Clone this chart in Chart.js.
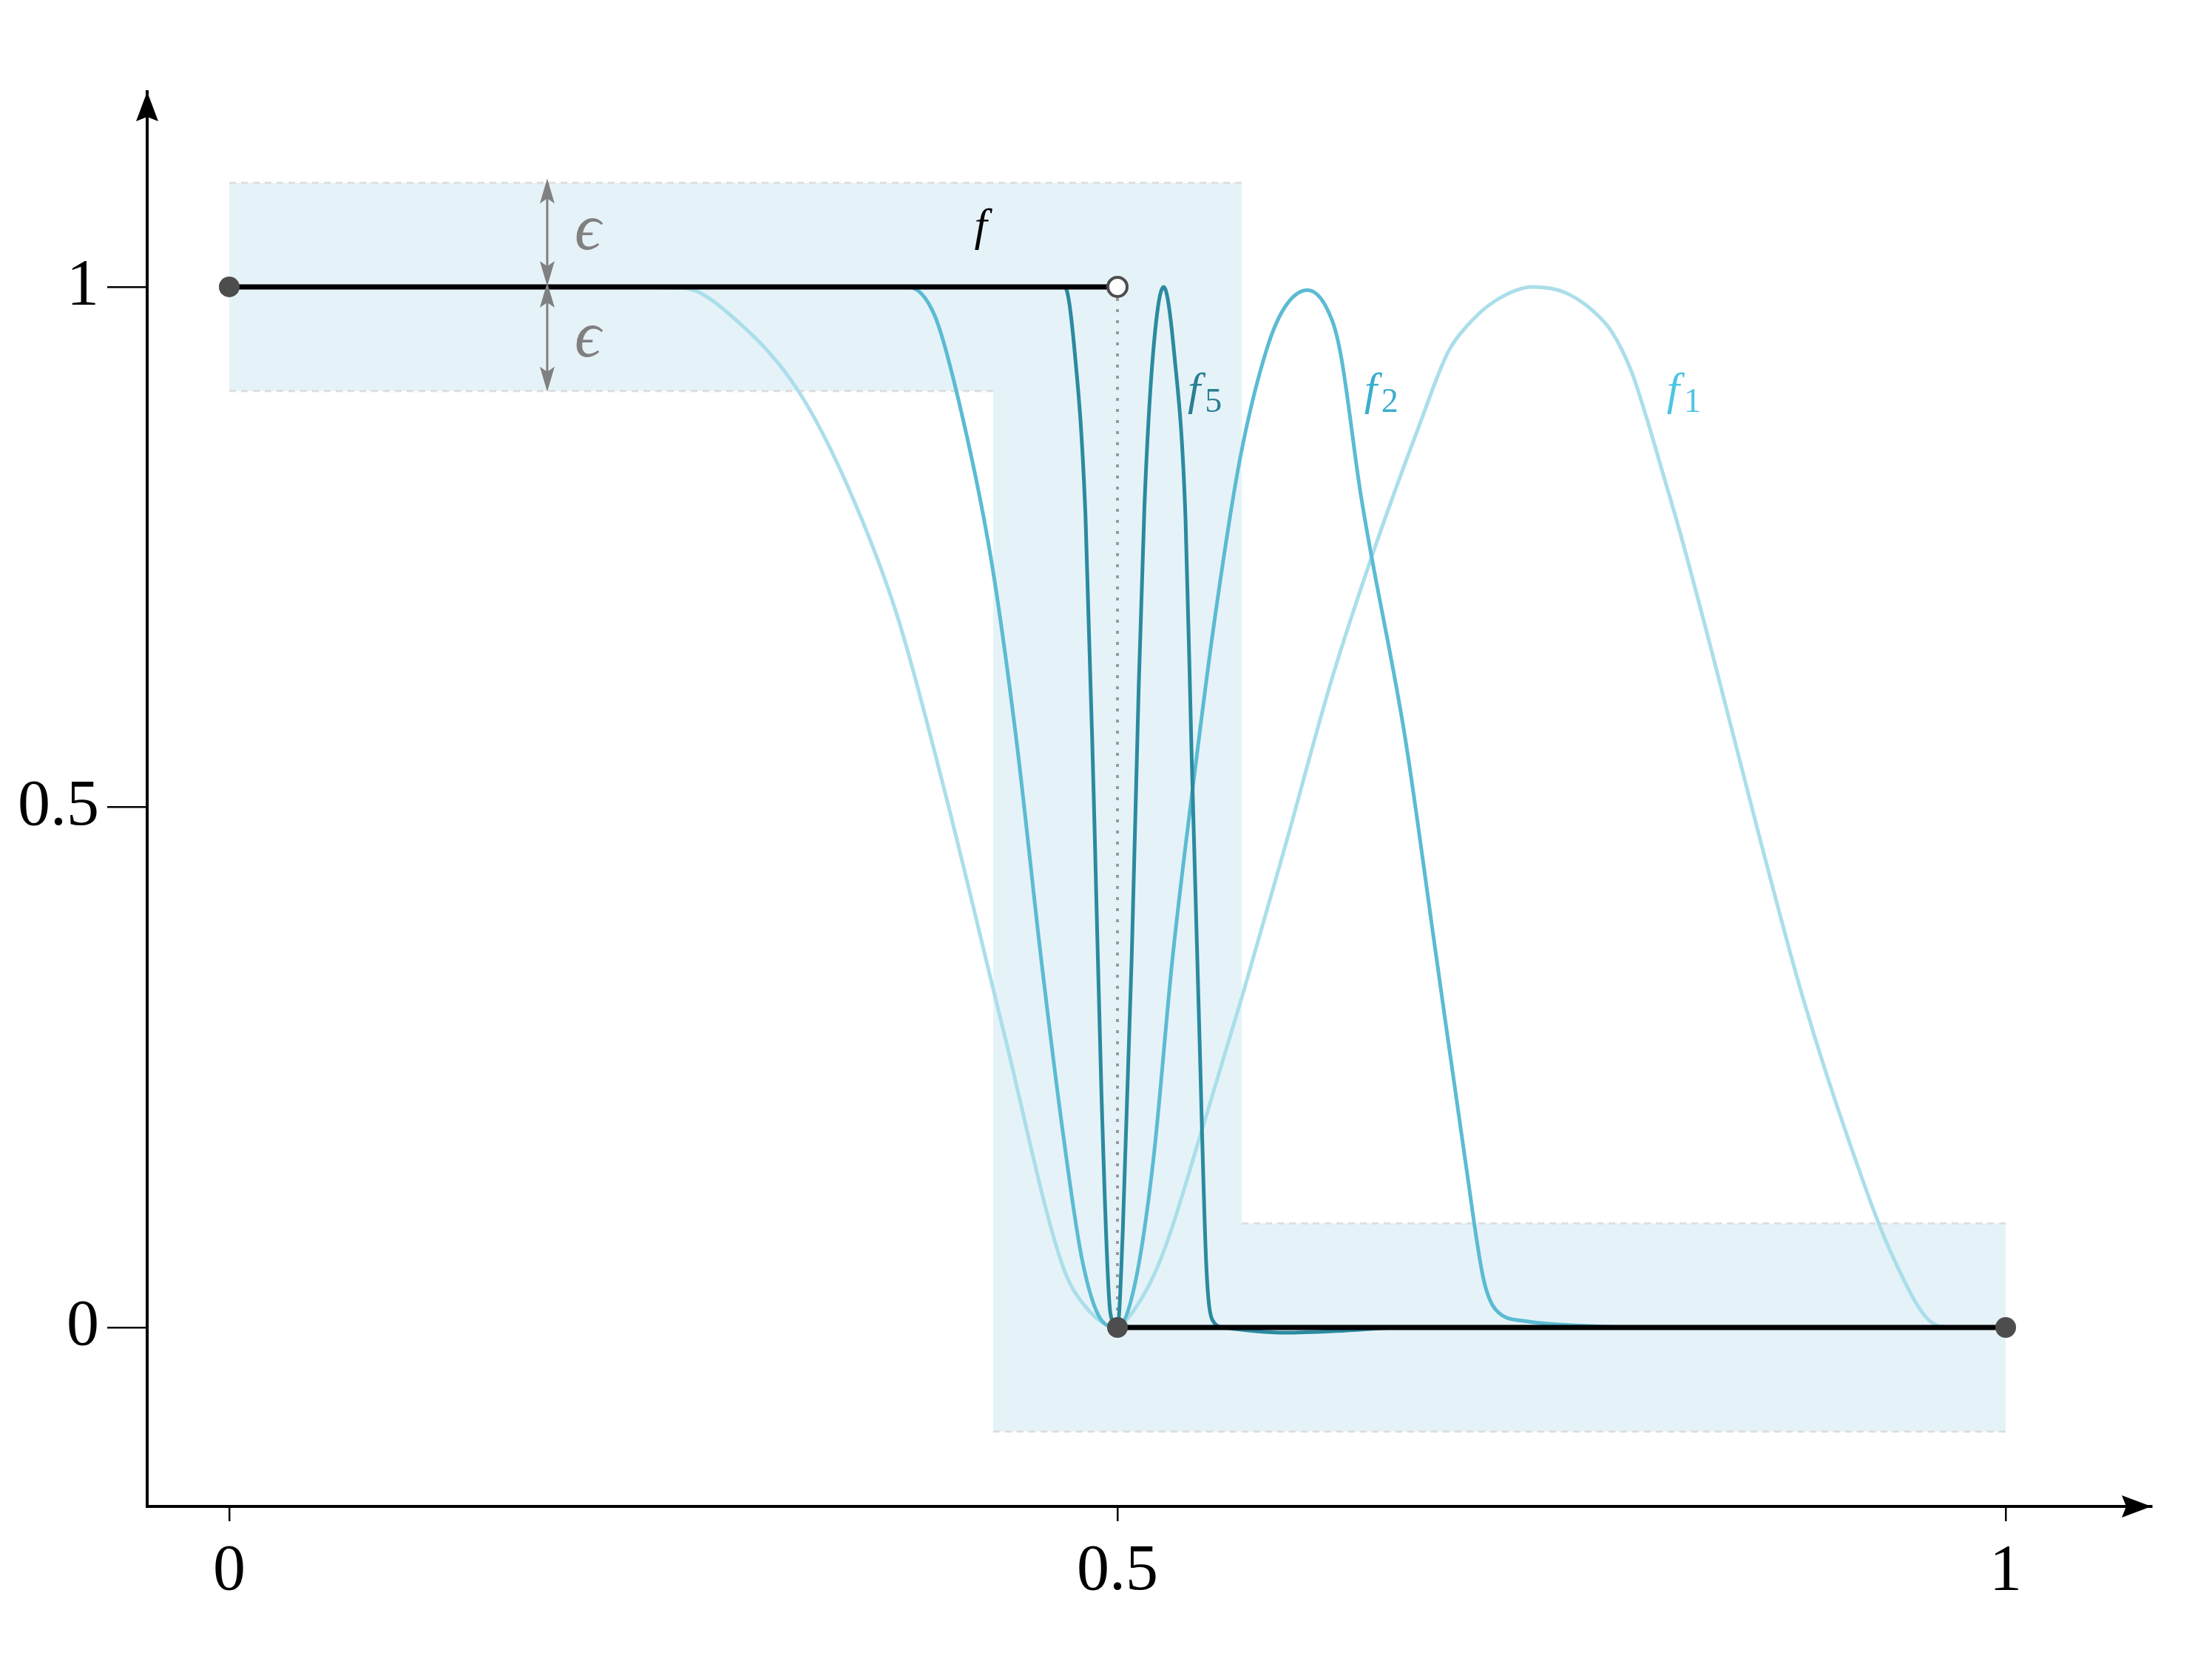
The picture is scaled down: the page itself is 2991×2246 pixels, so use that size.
<!DOCTYPE html>
<html>
<head>
<meta charset="utf-8">
<script src="https://cdn.jsdelivr.net/npm/chart.js@4.4.1/dist/chart.umd.min.js"></script>
<style>
html, body { margin: 0; padding: 0; background: #fff; overflow: hidden; }
#wrap { width: 2991px; height: 2246px; }
</style>
</head>
<body>
<div id="wrap"><canvas id="myChart"></canvas></div>
<script>
// tick values
const xTicks = [0, 0.5, 1];
const yTicks = [0, 0.5, 1];

// f : the limit (step) function
const fTopX = [0, 0.5];
const fTopY = [1, 1];
const fBotX = [0.5, 1];
const fBotY = [0, 0];

// f1
const f1X = [0, 0.2, 0.255, 0.288, 0.320, 0.348, 0.376, 0.401, 0.436, 0.469, 0.482, 0.5,
             0.503, 0.523, 0.549, 0.571, 0.594, 0.621, 0.645, 0.6697, 0.686, 0.697, 0.713, 0.7337,
             0.7514, 0.7677, 0.7786, 0.7895, 0.7977, 0.8058, 0.8167, 0.8345, 0.861, 0.886, 0.912,
             0.937, 0.959, 0.97, 1];
const f1Y = [1, 1, 0.999, 0.964, 0.901, 0.809, 0.684, 0.527, 0.284, 0.060, 0.02, 0,
             0.003, 0.06, 0.198, 0.323, 0.46, 0.625, 0.75, 0.866, 0.937, 0.963, 0.987, 1.0,
             0.995, 0.977, 0.956, 0.918, 0.875, 0.828, 0.764, 0.650, 0.474, 0.316, 0.178,
             0.066, 0.004, 0, 0];

// f2
const f2X = [0, 0.3, 0.382, 0.397, 0.410, 0.429, 0.443, 0.457, 0.469, 0.480, 0.491, 0.5,
             0.5096, 0.520, 0.531, 0.543, 0.555, 0.569, 0.584, 0.594, 0.607, 0.621, 0.626, 0.637,
             0.662, 0.679, 0.696, 0.706, 0.713, 0.730, 0.758, 0.8, 1];
const f2Y = [1, 1, 1, 0.973, 0.895, 0.737, 0.566, 0.355, 0.191, 0.066, 0.007, 0,
             0.040, 0.158, 0.355, 0.527, 0.684, 0.835, 0.940, 0.980, 0.997, 0.967, 0.932, 0.80,
             0.566, 0.362, 0.158, 0.047, 0.017, 0.006, 0.002, 0, 0];

// f5
const f5X = [0, 0.45, 0.4703, 0.4755, 0.482, 0.487, 0.491, 0.496, 0.5,
             0.503, 0.508, 0.512, 0.5152, 0.520, 0.526, 0.532, 0.5383, 0.5417, 0.546, 0.550,
             0.5535, 0.560, 0.594, 0.628, 0.66, 1];
const f5Y = [1, 1, 1, 0.945, 0.780, 0.487, 0.224, 0.014, 0,
             0.093, 0.355, 0.618, 0.79, 0.935, 1.0, 0.935, 0.778, 0.553, 0.29, 0.060,
             0.007, 0, -0.005, -0.003, 0, 0];

// epsilon band around f
const bandX = [0, 0.57, 0.57, 1, 1, 0.43, 0.43, 0];
const bandY = [1.1, 1.1, 0.1, 0.1, -0.1, -0.1, 0.9, 0.9];
const edgeX = [[0, 0.57], [0, 0.43], [0.57, 1], [0.43, 1]];
const edgeY = [[1.1, 1.1], [0.9, 0.9], [0.1, 0.1], [-0.1, -0.1]];

// jump marker at x = 0.5
const jumpX = [0.5, 0.5];
const jumpY = [1, 0];
const dotX = [0, 0.5, 1];
const dotY = [1, 0, 0];
const openX = [0.5];
const openY = [1];

// epsilon arrows
const epsX = 0.179;
const epsY = [1.1, 1.0, 0.9];

const serif = '"Liberation Serif", "DejaVu Serif", serif';

function pts(xs, ys){
    return xs.map((x, i) => ({x: x, y: ys[i]}));
}

function curve(label, xs, ys, color, order){
    return {
        label: label,
        data: pts(xs, ys),
        showLine: true,
        borderColor: color,
        borderWidth: 5,
        pointRadius: 0,
        cubicInterpolationMode: 'monotone',
        fill: false,
        order: order
    };
}

const datasets = [];
datasets.push({
    label: 'open', data: pts(openX, openY), showLine: false,
    pointRadius: 13, pointBackgroundColor: '#fff', pointBorderColor: '#4d4d4d', pointBorderWidth: 4, order: 0
});
datasets.push({
    label: 'dots', data: pts(dotX, dotY), showLine: false,
    pointRadius: 14, pointBackgroundColor: '#4d4d4d', pointBorderWidth: 0, order: 1
});
datasets.push({label: 'f top', data: pts(fTopX, fTopY), showLine: true, borderColor: '#000', borderWidth: 7, pointRadius: 0, order: 2});
datasets.push({label: 'f bottom', data: pts(fBotX, fBotY), showLine: true, borderColor: '#000', borderWidth: 7, pointRadius: 0, order: 2});
datasets.push(curve('f5', f5X, f5Y, '#2b8aa0', 3));
datasets.push(curve('f2', f2X, f2Y, '#5bbbd3', 4));
datasets.push(curve('f1', f1X, f1Y, '#abdeea', 5));
datasets.push({
    label: 'jump', data: pts(jumpX, jumpY), showLine: true, borderColor: '#9a9a9a',
    borderWidth: 4, borderDash: [4, 11], pointRadius: 0, order: 6
});
for(let i = 0; i < edgeX.length; i++){
    datasets.push({
        label: 'edge' + i, data: pts(edgeX[i], edgeY[i]), showLine: true, borderColor: '#dedede',
        borderWidth: 3, borderDash: [9, 7], pointRadius: 0, order: 7
    });
}
datasets.push({
    label: 'band', data: pts(bandX, bandY), showLine: true, borderWidth: 0, borderColor: 'rgba(0,0,0,0)',
    backgroundColor: '#e5f3f8', fill: 'shape', pointRadius: 0, order: 8
});

const labels = [
    {text: 'f', sub: '', x: 0.4194, y: 1.045, color: '#000000'},
    {text: 'f', sub: '5', x: 0.5396, y: 0.887, color: '#2a7f93'},
    {text: 'f', sub: '2', x: 0.6389, y: 0.887, color: '#3aaecb'},
    {text: 'f', sub: '1', x: 0.8092, y: 0.887, color: '#4dc5e3'}
];

function stealth(ctx, x, y, dx, dy, len, half, notch){
    // tip at (x,y), pointing along (dx,dy)
    const px = -dy, py = dx;
    ctx.beginPath();
    ctx.moveTo(x, y);
    ctx.lineTo(x - dx * len + px * half, y - dy * len + py * half);
    ctx.lineTo(x - dx * notch, y - dy * notch);
    ctx.lineTo(x - dx * len - px * half, y - dy * len - py * half);
    ctx.closePath();
    ctx.fill();
}

const decor = {
    id: 'decor',
    afterDraw(chart){
        const ctx = chart.ctx;
        const a = chart.chartArea;
        const xs = chart.scales.x, ys = chart.scales.y;
        ctx.save();
        // axis arrows
        ctx.fillStyle = '#000';
        stealth(ctx, a.right, a.bottom, 1, 0, 40, 15, 34);
        stealth(ctx, a.left, a.top, 0, -1, 40, 15, 34);

        // epsilon arrows
        const ex = xs.getPixelForValue(epsX);
        ctx.strokeStyle = '#808080';
        ctx.fillStyle = '#808080';
        ctx.lineWidth = 3;
        for(let i = 0; i < epsY.length - 1; i++){
            const y1 = ys.getPixelForValue(epsY[i]);
            const y2 = ys.getPixelForValue(epsY[i + 1]);
            ctx.beginPath();
            ctx.moveTo(ex, y1 + 20);
            ctx.lineTo(ex, y2 - 20);
            ctx.stroke();
            stealth(ctx, ex, y1 - 6, 0, -1, 34, 10, 27);
            stealth(ctx, ex, y2 + (i == 0 ? -1 : 1), 0, 1, 34, 10, 27);
        }
        ctx.font = 'italic 88px ' + serif;
        ctx.textAlign = 'left';
        ctx.textBaseline = 'alphabetic';
        ctx.fillText('\u03f5', xs.getPixelForValue(0.1944), ys.getPixelForValue(1.036));
        ctx.fillText('\u03f5', xs.getPixelForValue(0.1944), ys.getPixelForValue(0.933));

        // function labels
        labels.forEach(l => {
            const lx = xs.getPixelForValue(l.x);
            const ly = ys.getPixelForValue(l.y);
            ctx.fillStyle = l.color;
            ctx.font = 'italic 62px ' + serif;
            ctx.fillText(l.text, lx, ly);
            const w = ctx.measureText(l.text).width;
            if(l.sub){
                ctx.font = '46px ' + serif;
                ctx.fillText(l.sub, lx + w + 6, ly + 10);
            }
        });
        ctx.restore();
    }
};

const config = {
    type: 'scatter',
    data: {datasets: datasets},
    plugins: [decor],
    options: {
        responsive: true,
        maintainAspectRatio: false,
        devicePixelRatio: 1,
        animation: false,
        layout: {padding: {top: 124, right: 82, left: 0, bottom: 0}},
        plugins: {legend: {display: false}, tooltip: {enabled: false}},
        scales: {
            x: {
                type: 'linear',
                min: -0.0462,
                max: 1.082,
                afterFit: s => { s.height = 209; },
                afterBuildTicks: s => { s.ticks = xTicks.map(v => ({value: v})); },
                grid: {drawOnChartArea: false, drawTicks: true, tickLength: 20, color: '#000', lineWidth: 2.5},
                border: {display: true, color: '#000', width: 4},
                ticks: {
                    color: '#000', padding: 16, maxRotation: 0,
                    font: {family: serif, size: 88},
                    callback: v => String(v)
                }
            },
            y: {
                type: 'linear',
                min: -0.172,
                max: 1.1876,
                afterFit: s => { s.width = 199; },
                afterBuildTicks: s => { s.ticks = yTicks.map(v => ({value: v})); },
                grid: {drawOnChartArea: false, drawTicks: true, tickLength: 54, color: '#000', lineWidth: 2.5},
                border: {display: true, color: '#000', width: 4},
                ticks: {
                    color: '#000', padding: 11,
                    font: {family: serif, size: 88},
                    callback: v => String(v)
                }
            }
        }
    }
};

const ctx = document.getElementById('myChart').getContext('2d');
const myChart = new Chart(ctx, config);
</script>
</body>
</html>
